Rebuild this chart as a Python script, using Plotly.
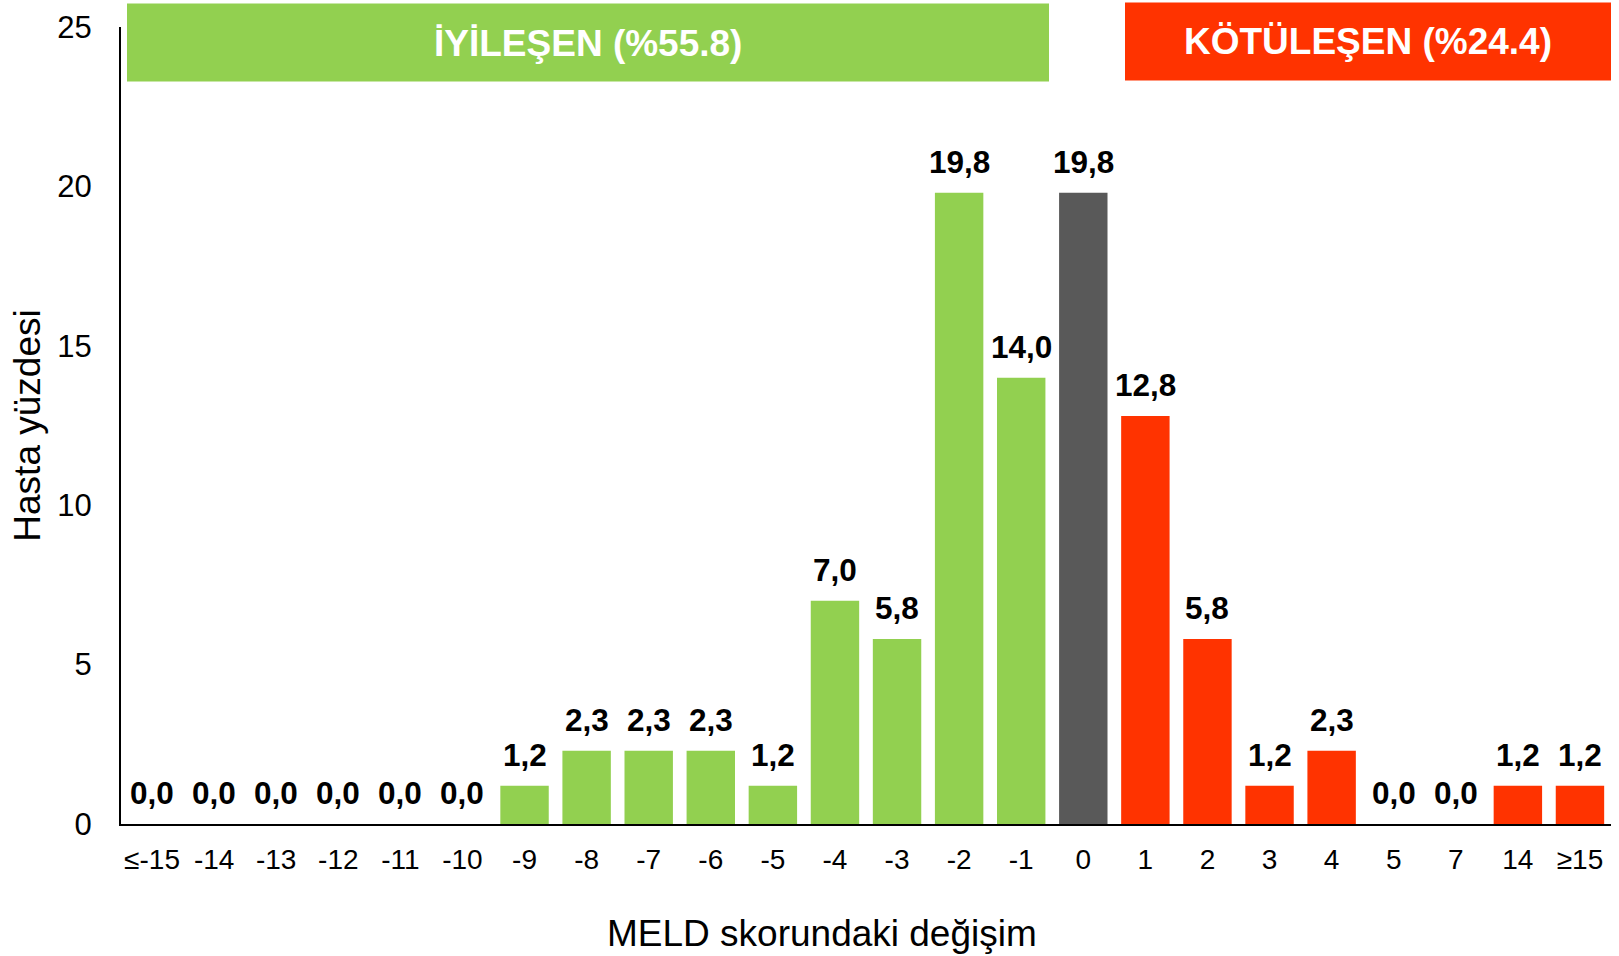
import plotly.graph_objects as go

# MELD score change categories and share of patients (%)
categories = ["≤-15", "-14", "-13", "-12", "-11", "-10", "-9", "-8", "-7", "-6", "-5",
              "-4", "-3", "-2", "-1", "0", "1", "2", "3", "4", "5", "7", "14", "≥15"]
percent = [0.0, 0.0, 0.0, 0.0, 0.0, 0.0, 1.2, 2.3, 2.3, 2.3, 1.2,
           7.0, 5.8, 19.8, 14.0, 19.8, 12.8, 5.8, 1.2, 2.3, 0.0, 0.0, 1.2, 1.2]
y_ticks = [0, 5, 10, 15, 20, 25]

GREEN = "#92D050"
GREY = "#595959"
RED = "#FF3300"

colors = []
for c in categories:
    n = int(c.replace("≤", "").replace("≥", ""))
    colors.append(GREEN if n < 0 else (GREY if n == 0 else RED))

FONT = "Liberation Sans, Arial, sans-serif"

fig = go.Figure(go.Bar(
    x=categories,
    y=percent,
    marker=dict(color=colors, line=dict(width=0)),
    hoverinfo="skip",
))

# value labels above each bar (category axis positions are indices)
for i, val in enumerate(percent):
    fig.add_annotation(
        x=i, y=val, xref="x", yref="y",
        text=f"{val:.1f}".replace(".", ","),
        showarrow=False, xanchor="center", yanchor="bottom", yshift=11,
        font=dict(family=FONT, size=31.5, color="black", weight="bold"),
    )

W, H = 1619, 956
L, R, T, B = 121, 8, 26.5, 132
pw = W - L - R
ph = H - T - B

def px_x(p):
    return (p - L) / pw

def px_y(p):
    return (H - B - p) / ph

fig.add_shape(type="rect", xref="paper", yref="paper",
              x0=px_x(127), x1=px_x(1049), y0=px_y(81), y1=px_y(3),
              fillcolor=GREEN, line=dict(width=0), layer="below")
fig.add_shape(type="rect", xref="paper", yref="paper",
              x0=px_x(1125), x1=px_x(1611), y0=px_y(80), y1=px_y(2),
              fillcolor=RED, line=dict(width=0), layer="below")

fig.add_annotation(xref="paper", yref="paper", x=px_x((127 + 1049) / 2), y=px_y(43),
                   xanchor="center", yanchor="middle",
                   text="İYİLEŞEN (%55.8)", showarrow=False,
                   font=dict(family=FONT, size=37, color="white", weight="bold"))
fig.add_annotation(xref="paper", yref="paper", x=px_x((1125 + 1611) / 2), y=px_y(41),
                   xanchor="center", yanchor="middle",
                   text="KÖTÜLEŞEN (%24.4)", showarrow=False,
                   font=dict(family=FONT, size=37, color="white", weight="bold"))

# x-axis title
fig.add_annotation(xref="paper", yref="paper", x=px_x(822), y=px_y(934),
                   xanchor="center", yanchor="middle",
                   text="MELD skorundaki değişim", showarrow=False,
                   font=dict(family=FONT, size=37, color="black"))

fig.update_layout(
    width=W, height=H,
    margin=dict(l=L, r=R, t=T, b=B),
    paper_bgcolor="white",
    plot_bgcolor="white",
    bargap=0.22,
    showlegend=False,
    font=dict(family=FONT, color="black"),
)

fig.update_xaxes(
    type="category",
    categoryorder="array", categoryarray=categories,
    range=[-0.5, len(categories) - 0.5],
    showline=True, linecolor="black", linewidth=2,
    showgrid=False, ticks="",
    tickangle=0,
    ticklabelstandoff=9,
    tickfont=dict(family=FONT, size=28, color="black"),
    automargin=False,
)
fig.update_yaxes(
    range=[0, 25],
    tickvals=y_ticks,
    showline=True, linecolor="black", linewidth=2,
    showgrid=False, zeroline=False, ticks="",
    ticklabelstandoff=21,
    tickfont=dict(family=FONT, size=31, color="black"),
    automargin=False,
    title=dict(text="Hasta yüzdesi", font=dict(family=FONT, size=37, color="black"),
               standoff=5),
)

fig.write_html("out.html")
